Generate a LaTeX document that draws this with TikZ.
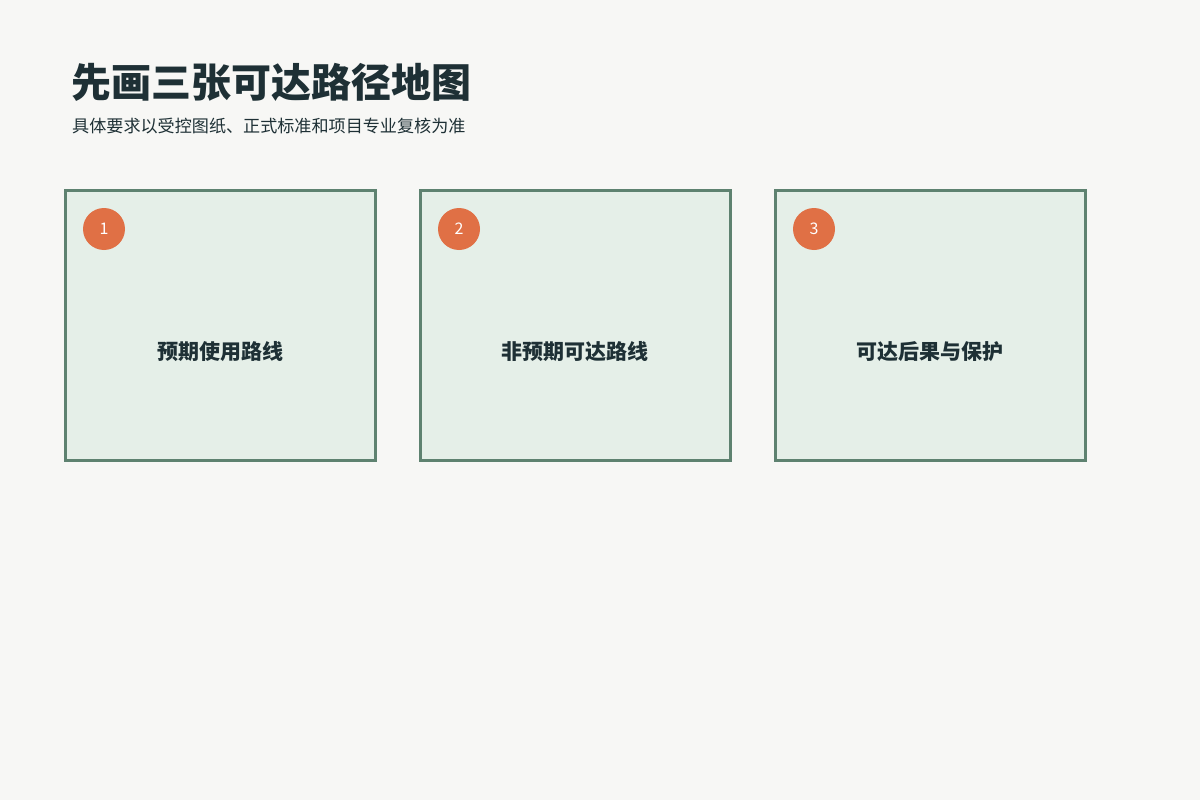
\documentclass[tikz,border=0pt]{standalone}
\usepackage{fontspec}
\newfontfamily\cjk{Noto Sans CJK SC}
\definecolor{bg}{HTML}{F7F7F5}
\definecolor{boxfill}{HTML}{E5EFE8}
\definecolor{boxline}{HTML}{5E8270}
\definecolor{badge}{HTML}{E07045}
\definecolor{ink}{HTML}{1E3035}
\begin{document}
\begin{tikzpicture}[x=1pt,y=-1pt,
  card/.style={draw=boxline,line width=3pt,fill=boxfill},
  badgenode/.style={circle,fill=badge,minimum size=42pt,inner sep=0pt,text=white,font=\cjk\fontsize{16}{16}\selectfont},
  cardlabel/.style={text=ink,font=\cjk\bfseries\fontsize{21}{21}\selectfont,inner sep=0pt},
]
\useasboundingbox (0,0) rectangle (1200,800);
\fill[bg] (0,0) rectangle (1200,800);
\node[anchor=base west,inner sep=0pt,text=ink,font=\cjk\bfseries\fontsize{40}{40}\selectfont] (title) at (71,97) {先画三张可达路径地图};
\node[anchor=base west,inner sep=0pt,text=ink,font=\cjk\fontsize{17.1}{17.1}\selectfont] (sub) at (72,132) {具体要求以受控图纸、正式标准和项目专业复核为准};
\foreach \i/\x/\t in {1/65/预期使用路线,2/420/非预期可达路线,3/775/可达后果与保护}{
  \draw[card] (\x,190) rectangle (\x+310,460);
  \node[badgenode] (b\i) at (\x+39,229) {\i};
  \node[cardlabel] (l\i) at (\x+155,352) {\t};
}
\end{tikzpicture}
\end{document}
